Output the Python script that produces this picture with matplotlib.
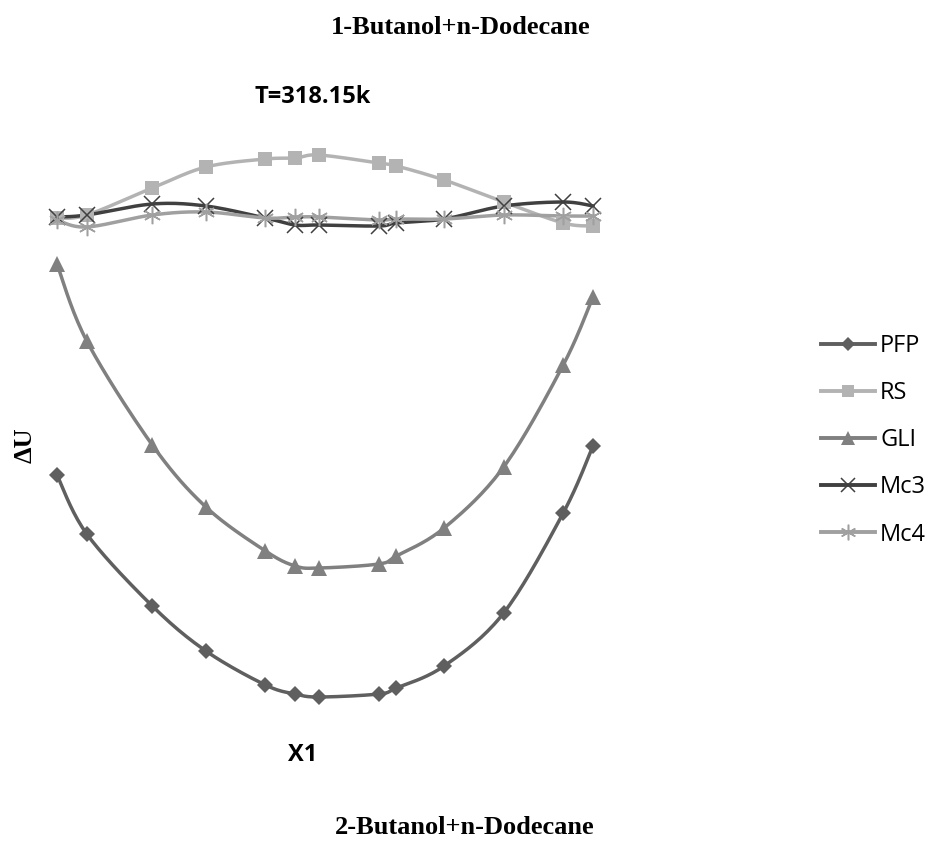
import numpy as np
import matplotlib
matplotlib.use("Agg")
import matplotlib.pyplot as plt
from matplotlib.lines import Line2D


# mole fraction of 1-butanol
x1 = [0.05, 0.10, 0.21, 0.30, 0.40, 0.45, 0.49, 0.59, 0.62, 0.70, 0.80, 0.90, 0.95]

# deviations (arbitrary units, no scale shown)
pfp = [-259, -318, -390, -435, -469, -478, -481, -478, -472, -450, -397, -297, -230]
rs = [-2, 1, 28, 49, 57, 58, 61, 53, 50, 36, 14, -7, -10]
gli = [-48, -125, -229, -291, -335, -350, -352, -348, -340, -312, -251, -149, -81]
mc3 = [-1, 1, 12, 10, -2, -9, -9, -10, -7, -3, 10, 14, 10]
mc4 = [-4, -11, 1, 4, -2, -1, -1, -4, -3, -3, 1, 0, 0]

names = ["PFP", "RS", "GLI", "Mc3", "Mc4"]
series = [pfp, rs, gli, mc3, mc4]
colors = ["#5f5f5f", "#b3b3b3", "#808080", "#404040", "#a0a0a0"]
markers = ["D", "s", "^", "x", (6, 2, 0)]
msizes = [8, 10, 11.5, 11, 12.5]


def smooth(x, y, n=20):
    # excel style smoothed line (bezier through the points)
    x = np.asarray(x, float)
    y = np.asarray(y, float)
    p = np.column_stack([x, y])
    out = [p[0]]
    t = np.linspace(0, 1, n)[1:, None]
    for i in range(len(p) - 1):
        p0 = p[i - 1] if i > 0 else p[i]
        p3 = p[i + 2] if i + 2 < len(p) else p[i + 1]
        c1 = p[i] + (p[i + 1] - p0) / 6
        c2 = p[i + 1] - (p3 - p[i]) / 6
        seg = ((1 - t) ** 3) * p[i] + 3 * ((1 - t) ** 2) * t * c1 \
            + 3 * (1 - t) * t ** 2 * c2 + t ** 3 * p[i + 1]
        out.extend(seg)
    out = np.array(out)
    return out[:, 0], out[:, 1]


W, H = 930, 841
fig = plt.figure(figsize=(W / 100, H / 100), dpi=100)
ax = fig.add_axes([57 / W, (H - 697) / H, 536 / W, 542 / H])
ax.set_xlim(0.05, 0.95)
ax.set_ylim(-481, 61)
ax.axis("off")

handles = []
for name, y, c, m, ms in zip(names, series, colors, markers, msizes):
    sx, sy = smooth(x1, y)
    ax.plot(sx, sy, color=c, lw=2.5, clip_on=False, zorder=2)
    mew = 1.1 if m == "x" or isinstance(m, tuple) else 0
    ax.plot(x1, y, ls="none", marker=m, ms=ms, color=c, mec=c, mew=mew,
            clip_on=False, zorder=3)
    handles.append(Line2D([], [], color=c, lw=2.8, marker=m, ms=ms * 0.9,
                          mec=c, mew=mew))

fig.legend(handles, names, loc="upper left", bbox_to_anchor=(821 / W, 1 - 334 / H),
           frameon=False, handlelength=2.3, handletextpad=0.2,
           borderpad=0, borderaxespad=0, labelspacing=0.98,
           prop={"family": "Open Sans", "size": 17})

serif = "Liberation Serif"
sans = "Open Sans"
fig.text(461 / W, 1 - 28 / H, "1-Butanol+n-Dodecane", ha="center", va="center",
         family=serif, weight="bold", fontsize=19)
fig.text(313 / W, 1 - 97 / H, "T=318.15k", ha="center", va="center",
         family=sans, weight="bold", fontsize=17)
fig.text(25 / W, 1 - 445 / H, "ΔU", ha="center", va="center", rotation=90,
         family=serif, weight="bold", fontsize=19)
fig.text(303 / W, 1 - 755 / H, "X1", ha="center", va="center",
         family=sans, weight="bold", fontsize=17)
fig.text(465 / W, 1 - 828 / H, "2-Butanol+n-Dodecane", ha="center", va="center",
         family=serif, weight="bold", fontsize=19)

fig.savefig("out.png", dpi=100, facecolor="white")
